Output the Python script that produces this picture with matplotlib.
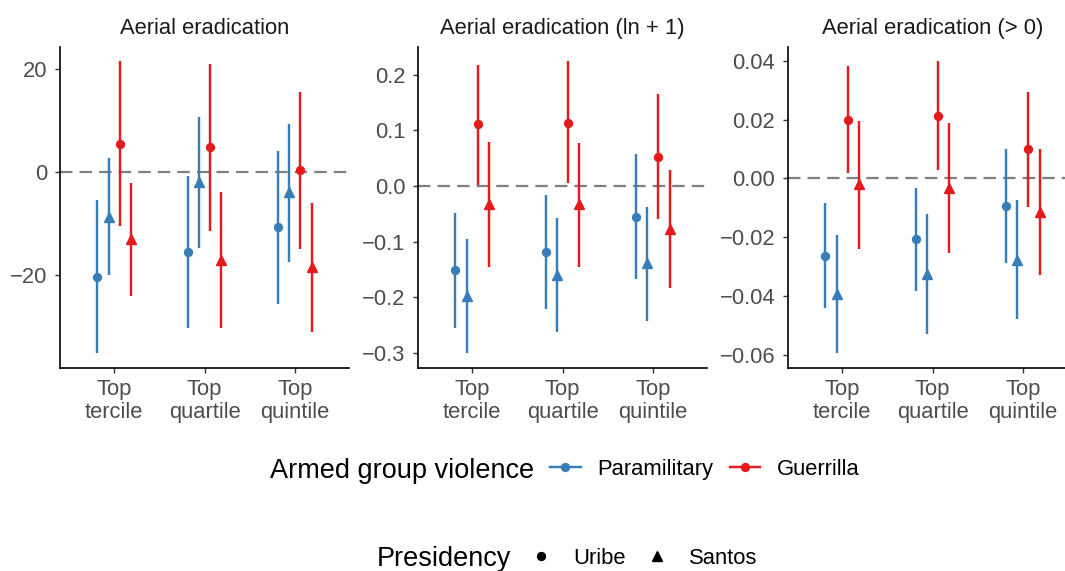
import matplotlib
matplotlib.use("Agg")
import matplotlib.pyplot as plt
from matplotlib.lines import Line2D
import numpy as np

plt.rcParams['font.family'] = ['Liberation Sans', 'DejaVu Sans']

# 데이터
categories = ["Top\ntercile", "Top\nquartile", "Top\nquintile"]
panel_titles = ["Aerial eradication", "Aerial eradication (ln + 1)", "Aerial eradication (> 0)"]

# series order: Paramilitary-Uribe, Paramilitary-Santos, Guerrilla-Uribe, Guerrilla-Santos
series_group = ["Paramilitary", "Paramilitary", "Guerrilla", "Guerrilla"]
series_pres = ["Uribe", "Santos", "Uribe", "Santos"]

est1 = [[-20.3, -8.7, 5.4, -13.0], [-15.6, -1.9, 4.7, -17.1], [-10.8, -3.9, 0.3, -18.5]]
lo1 = [[-35.2, -20.0, -10.6, -24.0], [-30.3, -14.8, -11.4, -30.2], [-25.6, -17.4, -15.0, -31.0]]
hi1 = [[-5.5, 2.6, 21.4, -2.1], [-0.9, 10.6, 20.8, -3.9], [4.1, 9.3, 15.5, -6.0]]

est2 = [[-0.152, -0.198, 0.111, -0.032], [-0.119, -0.160, 0.114, -0.033], [-0.055, -0.139, 0.052, -0.077]]
lo2 = [[-0.256, -0.301, 0.002, -0.145], [-0.221, -0.262, 0.005, -0.146], [-0.167, -0.242, -0.060, -0.184]]
hi2 = [[-0.048, -0.096, 0.218, 0.079], [-0.017, -0.058, 0.224, 0.077], [0.058, -0.037, 0.165, 0.029]]

est3 = [[-0.0263, -0.0394, 0.0199, -0.0020], [-0.0207, -0.0324, 0.0213, -0.0034], [-0.0093, -0.0276, 0.0099, -0.0113]]
lo3 = [[-0.0440, -0.0595, 0.0017, -0.0240], [-0.0383, -0.0530, 0.0030, -0.0254], [-0.0287, -0.0479, -0.0096, -0.0330]]
hi3 = [[-0.0085, -0.0194, 0.0383, 0.0195], [-0.0032, -0.0121, 0.0398, 0.0188], [0.0101, -0.0073, 0.0295, 0.0099]]

yticks1 = [-20, 0, 20]
yticks2 = [-0.3, -0.2, -0.1, 0.0, 0.1, 0.2]
yticks3 = [-0.06, -0.04, -0.02, 0.00, 0.02, 0.04]

# 스타일
colors = {"Paramilitary": "#377EB8", "Guerrilla": "#E41A1C"}
markers = {"Uribe": "o", "Santos": "^"}
msizes = {"Uribe": 5.7, "Santos": 6.8}
offsets = [-0.1875, -0.0625, 0.0625, 0.1875]
fs = 15.8
lw_bar = 1.75

W, H = 1065, 571
fig = plt.figure(figsize=(W / 100, H / 100), dpi=100)

lefts = [60, 418, 788]
panels = [(est1, lo1, hi1, yticks1, "%d"), (est2, lo2, hi2, yticks2, "%.1f"), (est3, lo3, hi3, yticks3, "%.2f")]

for k, (est, lo, hi, yt, fmt) in enumerate(panels):
    ax = fig.add_axes([lefts[k] / W, (H - 368) / H, 289 / W, 321.3 / H])
    est = np.array(est); lo = np.array(lo); hi = np.array(hi)
    x = np.arange(len(categories))
    ax.axhline(0, color="#7F7F7F", lw=1.6, dashes=(5.6, 3.2), zorder=1)
    for s in range(4):
        c = colors[series_group[s]]
        xs = x + offsets[s]
        ax.vlines(xs, lo[:, s], hi[:, s], color=c, lw=lw_bar, zorder=2)
        ax.plot(xs, est[:, s], ls="none", marker=markers[series_pres[s]],
                ms=msizes[series_pres[s]], color=c, mec=c, zorder=3)
    rng = hi.max() - lo.min()
    ax.set_ylim(lo.min() - 0.05 * rng, hi.max() + 0.05 * rng)
    ax.set_xlim(-0.6, 2.6)
    ax.set_xticks(x)
    ax.set_xticklabels(categories, linespacing=1.15)
    ax.set_yticks(yt)
    ax.set_yticklabels([(fmt % v).replace("-", "\u2212") for v in yt])
    for sp in ["top", "right"]:
        ax.spines[sp].set_visible(False)
    for sp in ["left", "bottom"]:
        ax.spines[sp].set_linewidth(1.2)
        ax.spines[sp].set_color("black")
    ax.tick_params(axis="both", length=3.6, width=1.0, color="#333333",
                   labelcolor="#4D4D4D", labelsize=fs)
    ax.tick_params(axis="y", pad=5.5)
    ax.tick_params(axis="x", pad=4)
    ax.set_title(panel_titles[k], fontsize=fs, color="#1A1A1A", pad=9.5)
    ax.patch.set_alpha(0)

# legend 1: Armed group violence
fig.text(270 / W, (H - 478.3) / H, "Armed group violence", fontsize=19.5, va="baseline", ha="left")
h1 = [Line2D([], [], color=colors[g], lw=lw_bar, marker="o", ms=5.7) for g in ["Paramilitary", "Guerrilla"]]
fig.legend(h1, ["Paramilitary", "Guerrilla"], loc="center left", bbox_to_anchor=(550 / W, (H - 469.5) / H),
           ncol=2, frameon=False, fontsize=fs, handlelength=1.4, handletextpad=0.75,
           columnspacing=0.75, borderpad=0, borderaxespad=0)

# legend 2: Presidency
fig.text(377 / W, (H - 566.5) / H, "Presidency", fontsize=19.5, va="baseline", ha="left")
h2 = [Line2D([], [], ls="none", color="black", marker=markers[p], ms=msizes[p]) for p in ["Uribe", "Santos"]]
fig.legend(h2, ["Uribe", "Santos"], loc="center left", bbox_to_anchor=(525.6 / W, (H - 558) / H),
           ncol=2, frameon=False, fontsize=fs, handlelength=1.4, handletextpad=0.75,
           columnspacing=0.75, borderpad=0, borderaxespad=0)

fig.savefig("out.png", dpi=100)
